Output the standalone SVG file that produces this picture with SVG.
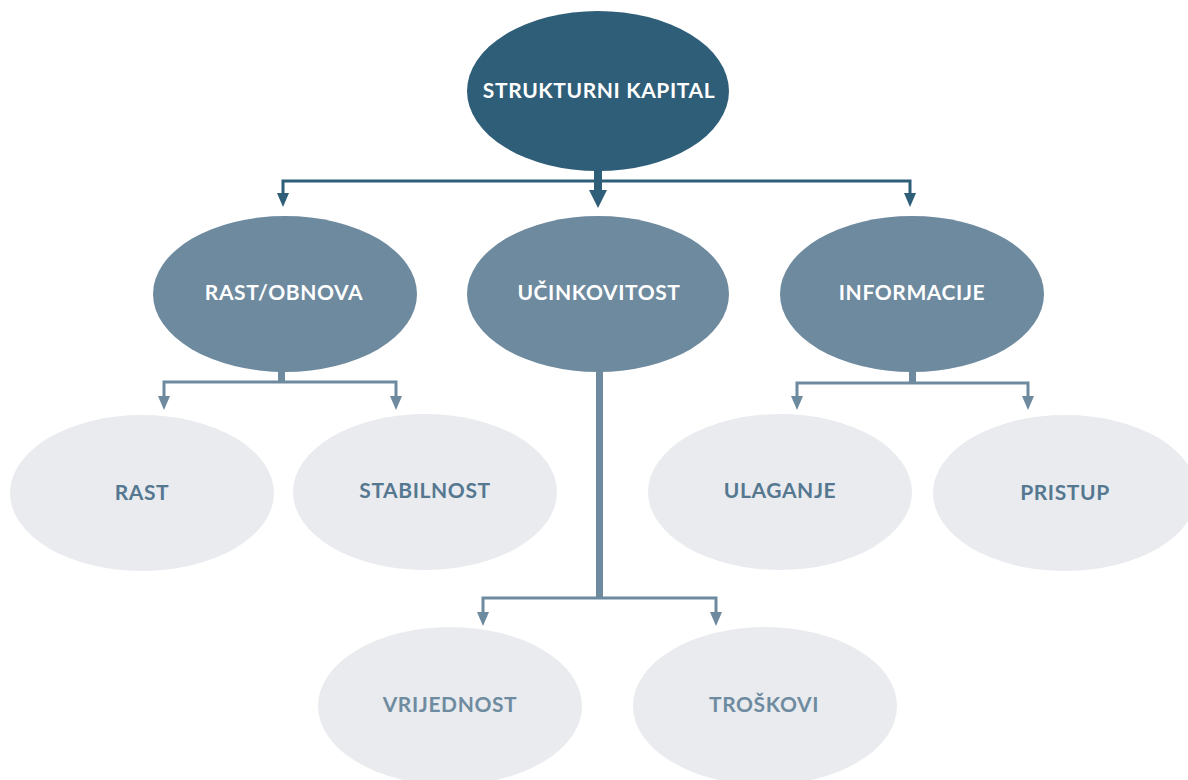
<svg xmlns="http://www.w3.org/2000/svg" width="1188" height="780" viewBox="0 0 1188 780">
<style>
  .top { fill: #2f5e78; }
  .mid { fill: #6e8a9f; }
  .leaf { fill: #e9ebef; }
  text { font-family: "Lato", "Open Sans", "Liberation Sans", sans-serif; font-weight: 700; text-anchor: middle; font-size: 21px; letter-spacing: 0.6px; }
  .tw { fill: #ffffff; }
  .t3 { fill: #557890; }
  .t4 { fill: #6f8ba0; }
  .ld { stroke: #2f5e78; stroke-width: 3; fill: none; }
  .ll { stroke: #6e8a9f; stroke-width: 3; fill: none; }
  .hd { fill: #2f5e78; }
  .hl { fill: #6e8a9f; }
</style>
<rect width="1188" height="780" fill="#ffffff"/>
<g id="connectors">
  <rect class="hd" x="594" y="166" width="8" height="26"/>
  <polyline class="ld" points="283,196 283,181 910,181 910,196"/>
  <polygon class="hd" points="277,193 289,193 283,207"/>
  <polygon class="hd" points="904,193 916,193 910,207"/>
  <polygon class="hd" points="589,190 607,190 598,208"/>
  <rect class="hl" x="278" y="368" width="7" height="14"/>
  <polyline class="ll" points="164,398 164,382 396,382 396,398"/>
  <polygon class="hl" points="158,396 170,396 164,410"/>
  <polygon class="hl" points="390,396 402,396 396,410"/>
  <rect class="hl" x="909" y="368" width="7" height="14"/>
  <polyline class="ll" points="797,398 797,383 1028,383 1028,398"/>
  <polygon class="hl" points="791,396 803,396 797,410"/>
  <polygon class="hl" points="1022,396 1034,396 1028,410"/>
  <rect class="hl" x="596" y="368" width="7" height="230"/>
  <polyline class="ll" points="483,614 483,598 716,598 716,614"/>
  <polygon class="hl" points="477,612 489,612 483,626"/>
  <polygon class="hl" points="710,612 722,612 716,626"/>
</g>
<g id="n-strukturni-kapital">
  <ellipse class="top" cx="598" cy="91" rx="131" ry="80"/>
  <text class="tw" x="599" y="98">STRUKTURNI KAPITAL</text>
</g>
<g id="n-rast-obnova">
  <ellipse class="mid" cx="285" cy="294" rx="132" ry="78"/>
  <text class="tw" x="284" y="300">RAST/OBNOVA</text>
</g>
<g id="n-ucinkovitost">
  <ellipse class="mid" cx="598" cy="294" rx="131" ry="78"/>
  <text class="tw" x="599" y="300">UČINKOVITOST</text>
</g>
<g id="n-informacije">
  <ellipse class="mid" cx="912" cy="294" rx="132" ry="78"/>
  <text class="tw" x="912" y="300">INFORMACIJE</text>
</g>
<g id="n-rast">
  <ellipse class="leaf" cx="142" cy="493" rx="132" ry="78"/>
  <text class="t3" x="142" y="500">RAST</text>
</g>
<g id="n-stabilnost">
  <ellipse class="leaf" cx="425" cy="492" rx="132" ry="78"/>
  <text class="t3" x="425" y="498">STABILNOST</text>
</g>
<g id="n-ulaganje">
  <ellipse class="leaf" cx="780" cy="492" rx="132" ry="78"/>
  <text class="t3" x="780" y="498">ULAGANJE</text>
</g>
<g id="n-pristup">
  <ellipse class="leaf" cx="1065" cy="493" rx="132" ry="78"/>
  <text class="t3" x="1065" y="500">PRISTUP</text>
</g>
<g id="n-vrijednost">
  <ellipse class="leaf" cx="450" cy="706" rx="132" ry="79"/>
  <text class="t4" x="450" y="712">VRIJEDNOST</text>
</g>
<g id="n-troskovi">
  <ellipse class="leaf" cx="765" cy="706" rx="132" ry="79"/>
  <text class="t4" x="764" y="712">TROŠKOVI</text>
</g>
</svg>
